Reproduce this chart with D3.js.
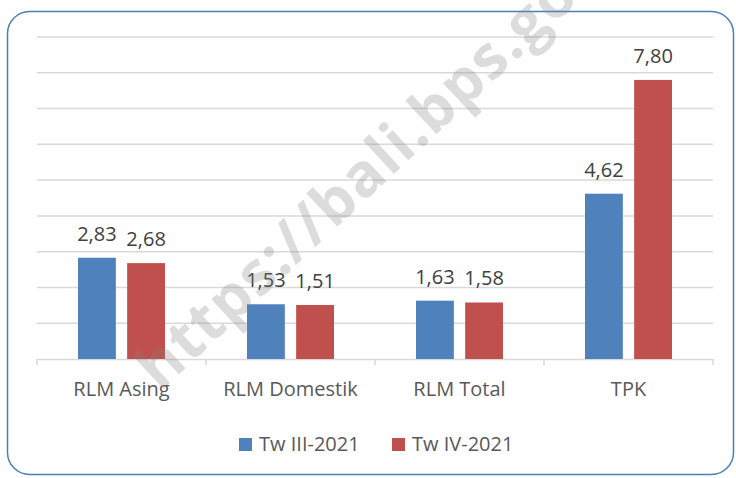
<!DOCTYPE html>
<html>
<head>
<meta charset="utf-8">
<script src="https://cdn.jsdelivr.net/npm/d3@7"></script>
<style>
  body { margin: 0; background: #fff; }
  svg { display: block; font-family: "Open Sans", sans-serif; }
</style>
</head>
<body>
<svg width="736" height="478"></svg>
<script>
const categories = ["RLM Asing", "RLM Domestik", "RLM Total", "TPK"];
const seriesNames = ["Tw III-2021", "Tw IV-2021"];
const tw3 = [2.83, 1.53, 1.63, 4.62];
const tw4 = [2.68, 1.51, 1.58, 7.80];
const colors = ["#4f81bd", "#c0504d"];
const yTicks = [0, 1, 2, 3, 4, 5, 6, 7, 8, 9];

const svg = d3.select("svg");

// outer frame
svg.append("rect")
  .attr("x", 7.5).attr("y", 11.5)
  .attr("width", 726).attr("height", 463)
  .attr("rx", 22).attr("ry", 22)
  .attr("fill", "#fff")
  .attr("stroke", "#4a7ebb")
  .attr("stroke-width", 1.5);

const x0 = d3.scaleBand().domain(categories).range([37, 713]);
const x1 = d3.scaleBand().domain(seriesNames).range([41, 128]).paddingInner(0.23);
const y = d3.scaleLinear().domain([0, 9]).range([359, 37]);

// gridlines
svg.append("g")
  .selectAll("line")
  .data(yTicks.slice(1))
  .enter()
  .append("line")
  .attr("x1", 37).attr("x2", 713)
  .attr("y1", d => y(d)).attr("y2", d => y(d))
  .attr("stroke", "#d9d9d9")
  .attr("stroke-width", 1.5);

// x axis
const xAxis = svg.append("g")
  .attr("transform", "translate(0," + y(0) + ")")
  .call(d3.axisBottom(x0).tickSize(0).tickPadding(23));
xAxis.select(".domain").attr("stroke", "#d9d9d9").attr("stroke-width", 1.5);
xAxis.selectAll("text")
  .attr("fill", "#595959")
  .style("font-size", "20px")
  .style("font-family", "'Open Sans', sans-serif");

// category separator ticks
svg.append("g")
  .selectAll("line")
  .data(categories.concat(["end"]))
  .enter()
  .append("line")
  .attr("x1", (d, i) => i < categories.length ? x0(d) : x0.range()[1])
  .attr("x2", (d, i) => i < categories.length ? x0(d) : x0.range()[1])
  .attr("y1", y(0)).attr("y2", y(0) + 6)
  .attr("stroke", "#d9d9d9")
  .attr("stroke-width", 1.5);

// bars
const rows = categories.map((c, i) => ({ cat: c, vals: [tw3[i], tw4[i]] }));
const groups = svg.append("g")
  .selectAll("g")
  .data(rows)
  .enter()
  .append("g")
  .attr("transform", d => "translate(" + x0(d.cat) + ",0)");

groups.selectAll("rect")
  .data(d => d.vals.map((v, k) => ({ s: seriesNames[k], v: v, k: k })))
  .enter()
  .append("rect")
  .attr("x", d => x1(d.s))
  .attr("y", d => y(d.v))
  .attr("width", x1.bandwidth())
  .attr("height", d => y(0) - y(d.v))
  .attr("fill", d => colors[d.k]);

groups.selectAll("text")
  .data(d => d.vals.map((v, k) => ({ s: seriesNames[k], v: v, k: k })))
  .enter()
  .append("text")
  .attr("x", d => x1(d.s) + x1.bandwidth() / 2)
  .attr("y", d => y(d.v) - 17)
  .attr("text-anchor", "middle")
  .attr("fill", "#404040")
  .style("font-size", "20px")
  .text(d => d3.format(".2f")(d.v).replace(".", ","));

// legend
const legend = svg.append("g")
  .selectAll("g")
  .data(seriesNames)
  .enter()
  .append("g")
  .attr("transform", (d, i) => "translate(" + [239, 392][i] + ",438)");
legend.append("rect")
  .attr("width", 13).attr("height", 13)
  .attr("fill", (d, i) => colors[i]);
legend.append("text")
  .attr("x", 20).attr("y", 13)
  .attr("fill", "#595959")
  .style("font-size", "20px")
  .text(d => d);

// watermark
svg.append("text")
  .attr("transform", "translate(160,392) rotate(-43)")
  .attr("fill", "#808080")
  .attr("fill-opacity", 0.28)
  .style("font-size", "60px")
  .style("font-weight", "bold")
  .style("letter-spacing", "1.5px")
  .style("font-family", "'Open Sans', sans-serif")
  .text("https://bali.bps.go.id");
</script>
</body>
</html>
